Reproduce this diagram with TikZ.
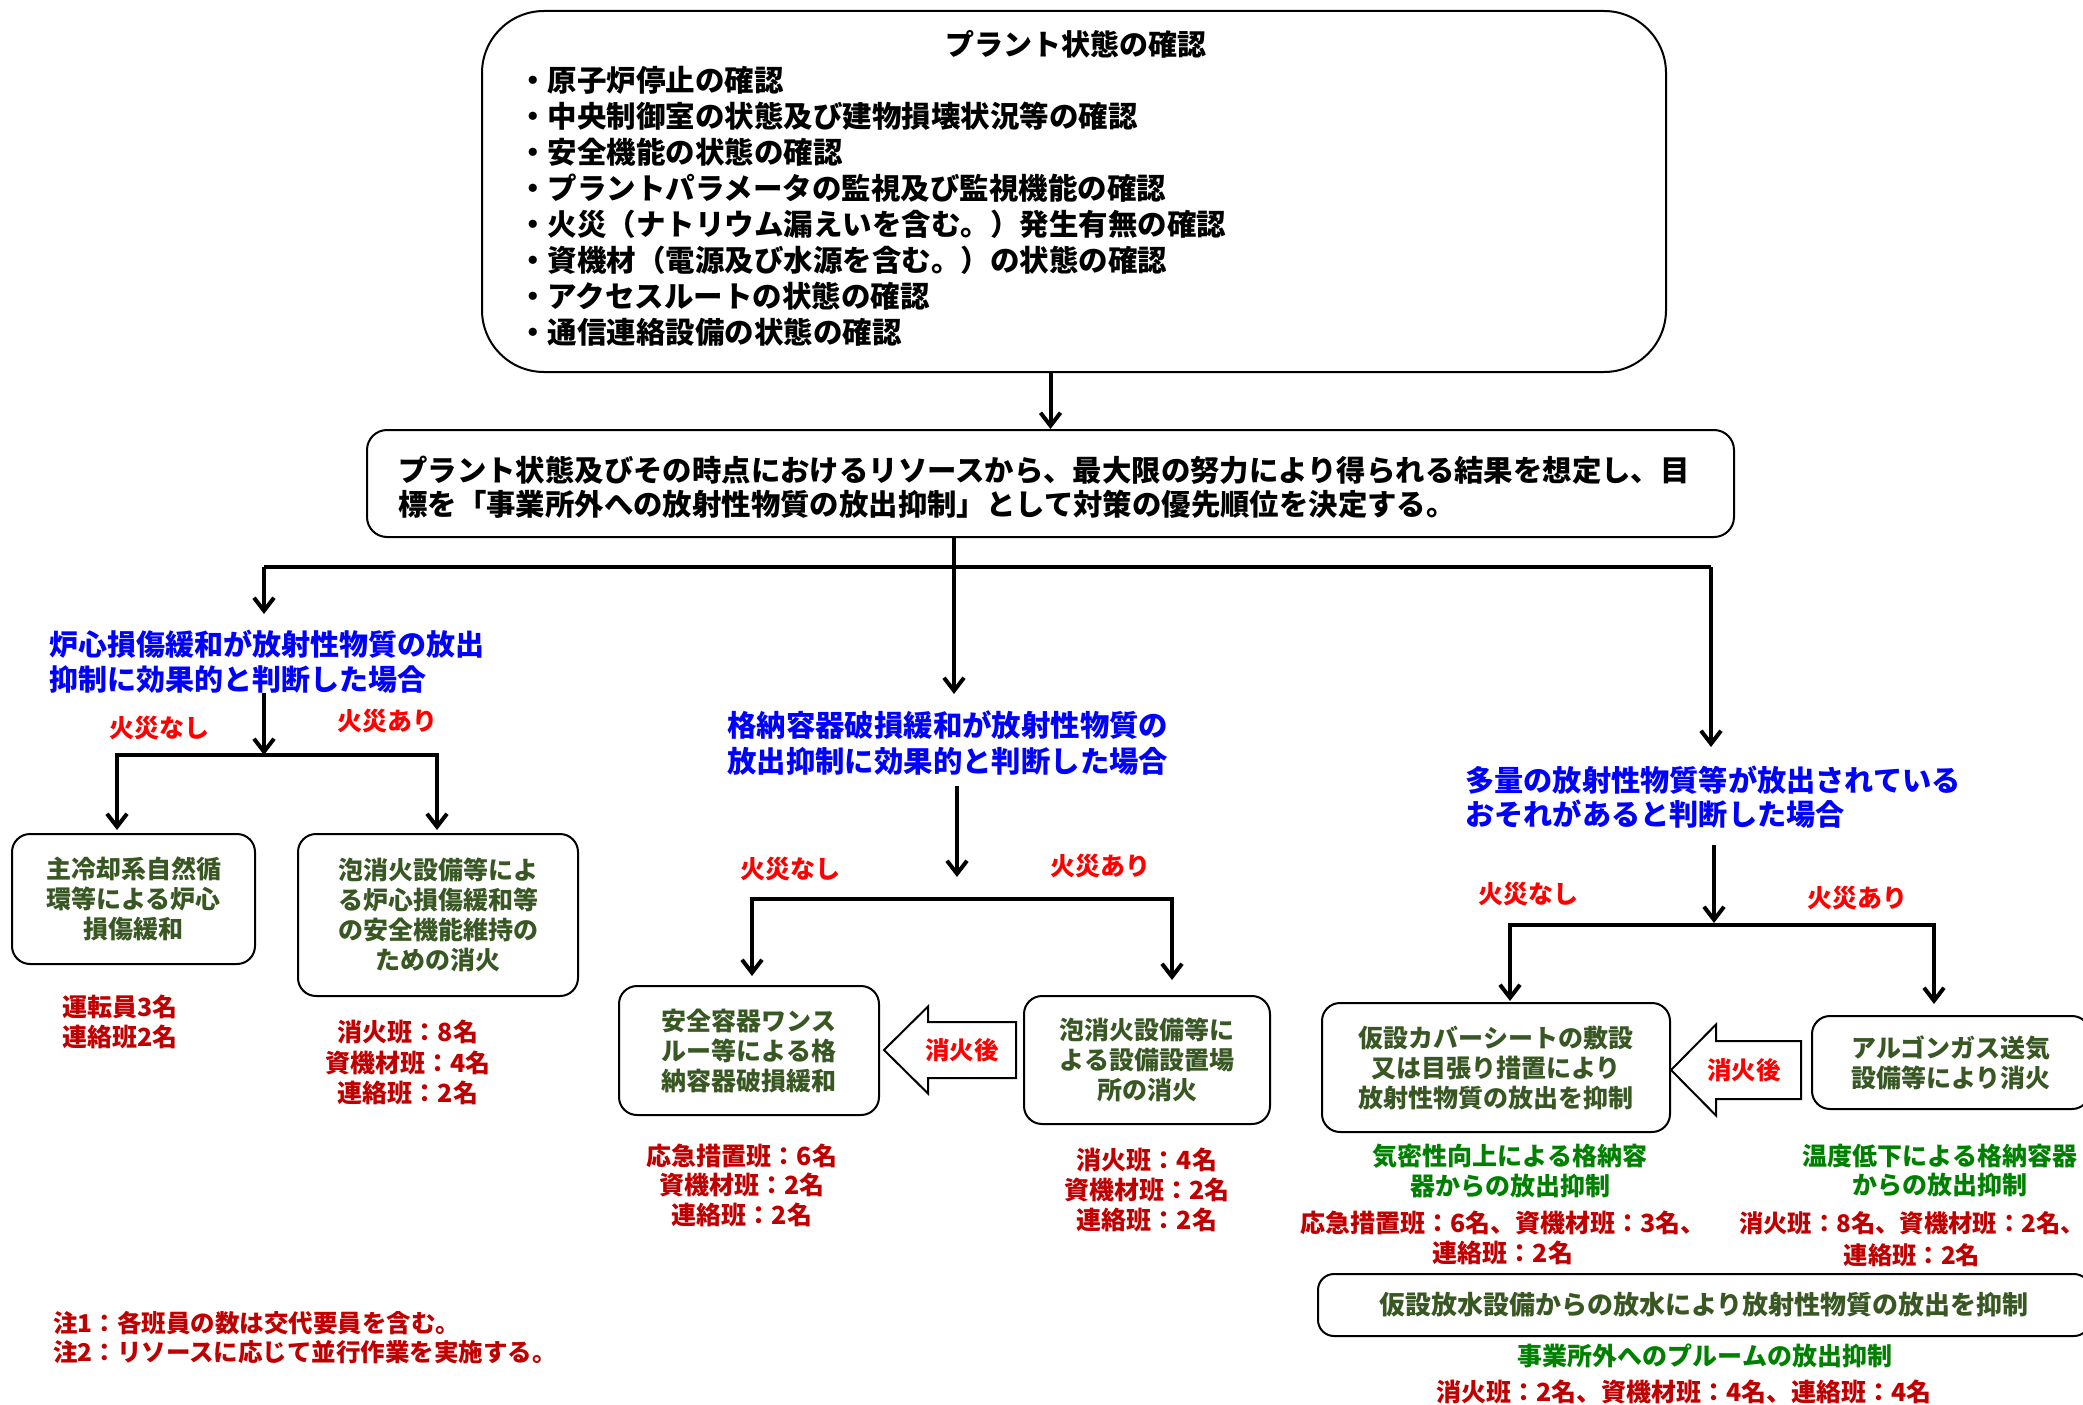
\documentclass[tikz,border=0pt]{standalone}
\usepackage{fontspec}
\setmainfont{Noto Sans CJK JP}
\usetikzlibrary{arrows.meta}
\definecolor{cblue}{RGB}{0,0,255}
\definecolor{cred}{RGB}{255,0,0}
\definecolor{dred}{RGB}{192,0,0}
\definecolor{bgreen}{RGB}{56,87,35}
\definecolor{rgreen}{RGB}{0,128,0}
\newcommand\fsz[2]{\fontsize{#1}{#2}\selectfont}
\tikzset{
  box/.style={draw, line width=2pt, rounded corners=18pt, inner sep=0pt, align=center},
  txt/.style={inner sep=0pt, align=center},
  conn/.style={line width=4pt},
  arr/.style={conn, -{Straight Barb[length=13pt,width=20pt]}},
  blk/.style={draw, line width=2pt, fill=white, line join=miter},
  blacktxt/.style={font=\bfseries\fsz{29}{36}, text=black},
  casetxt/.style={txt, align=left, anchor=west, text=cblue},
  firetxt/.style={txt, font=\bfseries\fsz{25}{30}, text=cred},
  boxtxt/.style={font=\bfseries\fsz{25}{30}, text=bgreen},
  cnttxt/.style={txt, font=\bfseries\fsz{25}{30}, text=dred},
  restxt/.style={txt, font=\bfseries\fsz{25}{30}, text=rgreen}
}
\begin{document}
\begin{tikzpicture}[x=1pt,y=-1pt]
\path[use as bounding box, clip] (0,0) rectangle (2083,1405);
\fill[white] (0,0) rectangle (2083,1405);

% top box
\node[box, rounded corners=62pt, minimum width=1184pt, minimum height=361pt] (top) at (1074,191.5) {};
\node[txt, blacktxt] (toptitle) at (1076,44) {プラント状態の確認};
\node[txt, font=\bfseries\fsz{29.5}{36}, align=left, anchor=west] (toplist) at (518,206.5) {・原子炉停止の確認\\・中央制御室の状態及び建物損壊状況等の確認\\・安全機能の状態の確認\\・プラントパラメータの監視及び監視機能の確認\\・火災（ナトリウム漏えいを含む。）発生有無の確認\\・資機材（電源及び水源を含む。）の状態の確認\\・アクセスルートの状態の確認\\・通信連絡設備の状態の確認};

% second box
\node[box, rounded corners=20pt, minimum width=1367pt, minimum height=107pt] (second) at (1050.5,483.5) {};
\node[txt, align=left, font=\bfseries\fsz{29.4}{34}] (secondtxt) at (1044,487.5) {プラント状態及びその時点におけるリソースから、最大限の努力により得られる結果を想定し、目\\標を「事業所外への放射性物質の放出抑制」として対策の優先順位を決定する。};

\draw[arr] (second.north |- top.south) -- (second.north);

% trunk
\coordinate (tM) at (954,694);
\coordinate (jL) at (264,567);
\coordinate (jR) at (1711,567);
\coordinate (tL) at (264,614);
\coordinate (tR) at (1711,747);
\draw[conn] (jL) -- (jR);
\draw[arr] (second.south -| tM) -- (tM);
\draw[arr] (jL) -- (tL);
\draw[arr] (jR) -- (tR);

% case labels
\node[casetxt, font=\bfseries\fsz{29}{35}] (caseL) at (49,661.5) {炉心損傷緩和が放射性物質の放出\\抑制に効果的と判断した場合};
\node[casetxt, font=\bfseries\fsz{29.4}{36}] (caseM) at (727,743) {格納容器破損緩和が放射性物質の\\放出抑制に効果的と判断した場合};
\node[casetxt, font=\bfseries\fsz{29.2}{34}] (caseR) at (1465,797) {多量の放射性物質等が放出されている\\おそれがあると判断した場合};

% left branch
\coordinate (sL) at (264,693);
\coordinate (hL) at (264,755);
\coordinate (eL1) at (117,830);
\coordinate (eL2) at (437,830);
\draw[arr] (sL) -- (hL);
\draw[arr] (hL) -| (eL1);
\draw[arr] (hL) -| (eL2);
\node[firetxt] (noneL) at (159,728) {火災なし};
\node[firetxt] (ariL) at (387,721) {火災あり};

\node[box, boxtxt, minimum width=243pt, minimum height=130pt] (L1) at (133.5,899) {主冷却系自然循\\環等による炉心\\損傷緩和};
\node[box, boxtxt, minimum width=280pt, minimum height=162pt] (L2) at (438,915) {泡消火設備等によ\\る炉心損傷緩和等\\の安全機能維持の\\ための消火};
\node[cnttxt, align=left, anchor=west] (cntL1) at (62,1022) {運転員3名\\連絡班2名};
\node[cnttxt, font=\bfseries\fsz{25}{30.5}] (cntL2) at (408,1062.5) {消火班：8名\\資機材班：4名\\連絡班：2名};

% middle branch
\coordinate (sM) at (957,786);
\coordinate (tM2) at (957,877);
\coordinate (hM) at (957,899);
\coordinate (eM1) at (752,976);
\coordinate (eM2) at (1172,980);
\draw[arr] (sM) -- (tM2);
\draw[arr] (hM) -| (eM1);
\draw[arr] (hM) -| (eM2);
\node[firetxt] (noneM) at (790,869) {火災なし};
\node[firetxt] (ariM) at (1100,866) {火災あり};

\node[box, boxtxt, minimum width=260pt, minimum height=129pt] (M1) at (749,1050.5) {安全容器ワンス\\ルー等による格\\納容器破損緩和};
\node[box, boxtxt, minimum width=246pt, minimum height=128pt] (M2) at (1147,1060) {泡消火設備等に\\よる設備設置場\\所の消火};
\draw[blk] (1016,1022) -- (928,1022) -- (928,1006.5) -- (884,1050) -- (928,1093.5) -- (928,1078) -- (1016,1078) -- cycle;
\node[firetxt, font=\bfseries\fsz{24.5}{30}] (afterM) at (962,1050) {消火後};
\node[cnttxt, font=\bfseries\fsz{25}{29.5}] (cntM1) at (742,1185) {応急措置班：6名\\資機材班：2名\\連絡班：2名};
\node[cnttxt] (cntM2) at (1147,1190) {消火班：4名\\資機材班：2名\\連絡班：2名};

% right branch
\coordinate (sR) at (1714,845);
\coordinate (tR2) at (1714,923);
\coordinate (hR) at (1714,925);
\coordinate (eR1) at (1510,1001);
\coordinate (eR2) at (1934,1004);
\draw[arr] (sR) -- (tR2);
\draw[arr] (hR) -| (eR1);
\draw[arr] (hR) -| (eR2);
\node[firetxt] (noneR) at (1528,894) {火災なし};
\node[firetxt] (ariR) at (1857,898) {火災あり};

\node[box, boxtxt, minimum width=348pt, minimum height=129pt] (R1) at (1496,1067.5) {仮設カバーシートの敷設\\又は目張り措置により\\放射性物質の放出を抑制};
\node[box, boxtxt, minimum width=278pt, minimum height=93pt] (R2) at (1951,1062.5) {アルゴンガス送気\\設備等により消火};
\draw[blk] (1801,1041) -- (1716,1041) -- (1716,1024.5) -- (1671,1070) -- (1716,1115.5) -- (1716,1099) -- (1801,1099) -- cycle;
\node[firetxt, font=\bfseries\fsz{24.5}{30}] (afterR) at (1744,1070) {消火後};

\node[restxt] (resR1) at (1510,1171) {気密性向上による格納容\\器からの放出抑制};
\node[cnttxt] (cntR1) at (1503,1238) {応急措置班：6名、資機材班：3名、\\連絡班：2名};
\node[restxt, font=\bfseries\fsz{25}{29}] (resR2) at (1940,1170.5) {温度低下による格納容器\\からの放出抑制};
\node[cnttxt, font=\bfseries\fsz{24.3}{32}] (cntR2) at (1912,1239) {消火班：8名、資機材班：2名、\\連絡班：2名};

% bottom box
\node[box, rounded corners=16pt, font=\bfseries\fsz{26}{30}, text=bgreen, minimum width=772pt, minimum height=62pt] (bot) at (1704,1305) {仮設放水設備からの放水により放射性物質の放出を抑制};
\node[restxt] (resBot) at (1705,1356) {事業所外へのプルームの放出抑制};
\node[cnttxt] (cntBot) at (1684,1392) {消火班：2名、資機材班：4名、連絡班：4名};

% notes
\node[cnttxt, font=\bfseries\fsz{24.5}{29}, align=left, anchor=west] (notes) at (53,1337.5) {注1：各班員の数は交代要員を含む。\\注2：リソースに応じて並行作業を実施する。};
\end{tikzpicture}
\end{document}
